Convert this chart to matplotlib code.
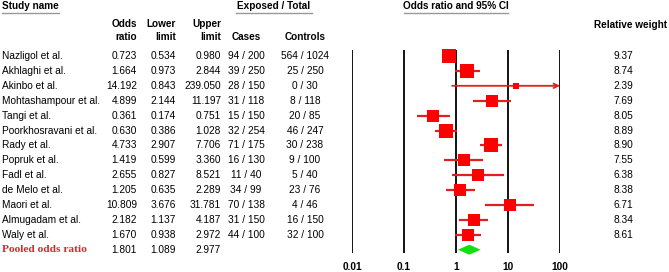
import matplotlib
matplotlib.use("Agg")
import matplotlib.pyplot as plt
import numpy as np

studies = ["Nazligol et al.", "Akhlaghi et al.", "Akinbo et al.", "Mohtashampour et al.",
           "Tangi et al.", "Poorkhosravani et al.", "Rady et al.", "Popruk et al.",
           "Fadl et al.", "de Melo et al.", "Maori et al.", "Almugadam et al.", "Waly et al."]
odds = [0.723, 1.664, 14.192, 4.899, 0.361, 0.630, 4.733, 1.419, 2.655, 1.205, 10.809, 2.182, 1.670]
lower = [0.534, 0.973, 0.843, 2.144, 0.174, 0.386, 2.907, 0.599, 0.827, 0.635, 3.676, 1.137, 0.938]
upper = [0.980, 2.844, 239.050, 11.197, 0.751, 1.028, 7.706, 3.360, 8.521, 2.289, 31.781, 4.187, 2.972]
cases = ["94 / 200", "39 / 250", "28 / 150", "31 / 118", "15 / 150", "32 / 254", "71 / 175",
         "16 / 130", "11 / 40", "34 / 99", "70 / 138", "31 / 150", "44 / 100"]
controls = ["564 / 1024", "25 / 250", "0 / 30", "8 / 118", "20 / 85", "46 / 247", "30 / 238",
            "9 / 100", "5 / 40", "23 / 76", "4 / 46", "16 / 150", "32 / 100"]
weights = [9.37, 8.74, 2.39, 7.69, 8.05, 8.89, 8.90, 7.55, 6.38, 8.38, 6.71, 8.34, 8.61]
pooled_label = "Pooled odds ratio"
pooled = (1.801, 1.089, 2.977)
xticks = [0.01, 0.1, 1, 10, 100]
xticklabels = ["0.01", "0.1", "1", "10", "100"]

W, H = 669, 272
fig = plt.figure(figsize=(W / 100, H / 100), dpi=100)
plt.rcParams['font.family'] = ['Liberation Sans', 'DejaVu Sans']

Y0, DY = 56.0, 14.9
def ypix(i):
    return Y0 + i * DY

axt = fig.add_axes([0, 0, 1, 1])
axt.set_xlim(0, W)
axt.set_ylim(H, 0)
axt.axis("off")

fs = 7.3
red = "#ff0000"
n = len(studies)

hb = dict(fontsize=7.2, fontweight="bold", color="black")
axt.text(2, 6, "Study name", ha="left", va="center", **hb)
axt.plot([2, 59], [12.5, 12.5], color="#999999", lw=1.0)
axt.text(274, 6, "Exposed / Total", ha="center", va="center", **hb)
axt.plot([236, 312], [12.5, 12.5], color="#999999", lw=1.0)
axt.text(456, 6, "Odds ratio and 95% CI", ha="center", va="center", **hb)
axt.plot([404, 508], [12.5, 12.5], color="#999999", lw=1.0)
axt.text(630, 25, "Relative weight", ha="center", va="center", **hb)
axt.text(137, 24, "Odds", ha="right", va="center", **hb)
axt.text(137, 37, "ratio", ha="right", va="center", **hb)
axt.text(176, 24, "Lower", ha="right", va="center", **hb)
axt.text(176, 37, "limit", ha="right", va="center", **hb)
axt.text(221, 24, "Upper", ha="right", va="center", **hb)
axt.text(221, 37, "limit", ha="right", va="center", **hb)
axt.text(246, 37, "Cases", ha="center", va="center", **hb)
axt.text(305, 37, "Controls", ha="center", va="center", **hb)

for i in range(n):
    y = ypix(i)
    axt.text(2, y, studies[i], ha="left", va="center", fontsize=fs)
    axt.text(137, y, f"{odds[i]:.3f}", ha="right", va="center", fontsize=fs)
    axt.text(176, y, f"{lower[i]:.3f}", ha="right", va="center", fontsize=fs)
    axt.text(221, y, f"{upper[i]:.3f}", ha="right", va="center", fontsize=fs)
    axt.text(246, y, cases[i], ha="center", va="center", fontsize=fs)
    axt.text(305, y, controls[i], ha="center", va="center", fontsize=fs)
    axt.text(623, y, f"{weights[i]:.2f}", ha="center", va="center", fontsize=fs)

yp = ypix(n)
axt.text(2, yp, pooled_label, ha="left", va="center", fontsize=8.2, fontweight="bold",
         color="#d42a2a", family=["Liberation Serif"])
axt.text(137, yp, f"{pooled[0]:.3f}", ha="right", va="center", fontsize=fs)
axt.text(176, yp, f"{pooled[1]:.3f}", ha="right", va="center", fontsize=fs)
axt.text(221, yp, f"{pooled[2]:.3f}", ha="right", va="center", fontsize=fs)

x0p, x1p = 352, 560
axf = fig.add_axes([x0p / W, 0, (x1p - x0p) / W, 1])
axf.set_xscale("log")
axf.set_xlim(0.01, 100)
axf.set_ylim((H - Y0) / DY, -Y0 / DY)
axf.axis("off")
axf.patch.set_alpha(0)

ytop = (50 - Y0) / DY
ybot = (253 - Y0) / DY
axf.vlines(xticks, ybot, ytop, color="black", lw=1.3, zorder=1)
for xv, lab in zip(xticks, xticklabels):
    axf.text(xv, (267 - Y0) / DY, lab, ha="center", va="center", fontsize=7.3, fontweight="bold")

for i in range(n):
    hi = upper[i]
    if hi > 100:
        axf.annotate("", xy=(100, i), xytext=(lower[i], i),
                     arrowprops=dict(arrowstyle="->", color="#e02020", lw=1.3,
                                     mutation_scale=8, shrinkA=0, shrinkB=0),
                     zorder=3)
    else:
        axf.plot([lower[i], hi], [i, i], color="#e02020", lw=1.6, zorder=3, solid_capstyle="butt")
    side_px = 4.4 * np.sqrt(weights[i])
    axf.plot([odds[i]], [i], marker="s", ms=side_px * 0.72, color=red, mec=red, mew=0, zorder=4)

half_h = 5.0 / DY
dx = [pooled[1], pooled[0], pooled[2], pooled[0]]
dy = [n, n - half_h, n, n + half_h]
axf.fill(dx, dy, color="#10e010", zorder=4, lw=0)

fig.savefig("out.png", dpi=100)
